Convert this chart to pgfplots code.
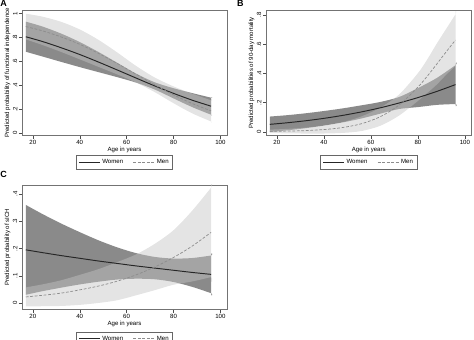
\documentclass[border=0pt]{standalone}
\usepackage{fontspec}
\setmainfont{Liberation Sans}
\usepackage{pgfplots}
\pgfplotsset{compat=1.18}
\definecolor{wband}{gray}{0.54}
\definecolor{mband}{gray}{0.77}
\definecolor{wline}{gray}{0.15}
\definecolor{mline}{gray}{0.55}

\pgfplotsset{
  panel/.style={
    scale only axis,
    width=205bp, height=125.7bp,
    xmin=15.4, xmax=102.8,
    xtick={20,40,60,80,100},
    tick align=outside, major tick length=3bp,
    xtick pos=bottom, ytick pos=left,
    axis line style={black!55, line width=0.5pt},
    major tick style={black!70, line width=0.4pt},
    font=\fontsize{6.1}{7}\selectfont,
    /pgf/number format/assume math mode=true,
    yticklabel style={rotate=90, anchor=south, inner sep=1.5bp},
    xticklabel style={inner sep=1.5bp},
    xlabel={Age in years},
    xlabel style={at={(axis description cs:0.5,-0.115)}, anchor=center},
    ylabel style={at={(axis description cs:-0.07,0.5)}, anchor=center},
    legend columns=2,
    legend cell align=left,
    legend style={draw=black!60, line width=0.4pt, fill=white,
      font=\fontsize{6.1}{7}\selectfont, anchor=north, at={(0.5,-0.155)},
      inner xsep=2bp, inner ysep=2.2bp,
      /tikz/every even column/.append style={column sep=8bp}},
    legend image code/.code={\draw[##1] (0bp,0bp) -- (21bp,0bp);},
  },
  wbandsty/.style={fill=wband, draw=none, forget plot, smooth, tension=0.5},
  mbandsty/.style={fill=mband, fill opacity=0.46, draw=none, forget plot, smooth, tension=0.5},
  wlinesty/.style={wline, line width=0.95pt, smooth},
  mlinesty/.style={mline, line width=0.7pt, smooth, dash pattern=on 2.8bp off 1.7bp},
}

\begin{document}
\begin{tikzpicture}
\useasboundingbox (0,0) rectangle (474bp,340bp);

% ---------- A ----------
\begin{axis}[panel, at={(22bp,204.3bp)}, anchor=south west,
  ymin=-0.02, ymax=1.028,
  ytick={0,0.2,0.4,0.6,0.8,1}, yticklabels={0,.2,.4,.6,.8,1},
  ylabel={Predicted probability of functional independence}]
  \addplot[wbandsty] coordinates {(17,.931)(24,.891)(32,.832)(40,.761)(48,.678)(56,.588)(64,.498)(72,.425)(80,.376)(88,.335)(96,.297)(96,.297)
    (96,.155)(96,.155)(88,.218)(80,.291)(72,.365)(64,.423)(56,.468)(48,.510)(40,.552)(32,.596)(24,.641)(17,.680)};
  \addplot[mbandsty] coordinates {(17,.997)(24,.973)(32,.930)(40,.866)(48,.779)(56,.674)(64,.562)(72,.465)(80,.391)(88,.330)(96,.275)(96,.275)
    (96,.099)(96,.099)(88,.166)(80,.251)(72,.343)(64,.424)(56,.491)(48,.554)(40,.617)(32,.679)(24,.737)(17,.783)};
  \addplot[wlinesty] coordinates {(17,.805)(24,.766)(32,.714)(40,.657)(48,.594)(56,.528)(64,.461)(72,.395)(80,.333)(88,.276)(96,.226)};
  \addlegendentry{Women}
  \addplot[mlinesty] coordinates {(17,.890)(24,.855)(32,.804)(40,.742)(48,.667)(56,.582)(64,.493)(72,.404)(80,.321)(88,.248)(96,.187)};
  \addlegendentry{Men}
\end{axis}

% ---------- B ----------
\begin{axis}[panel, at={(266bp,204.3bp)}, anchor=south west,
  width=205.5bp,
  ymin=-0.027, ymax=0.834,
  ytick={0,0.2,0.4,0.6,0.8}, yticklabels={0,.2,.4,.6,.8},
  ylabel={Predicted probabilities of 90-day mortality}]
  \addplot[wbandsty] coordinates {(17,.104)(24,.113)(32,.126)(40,.142)(48,.160)(56,.181)(64,.204)(72,.238)(80,.299)(88,.368)(96,.456)(96,.456)
    (96,.190)(96,.190)(88,.184)(80,.169)(72,.156)(64,.124)(56,.091)(48,.064)(40,.042)(32,.024)(24,.009)(17,-.002)};
  \addplot[mbandsty] coordinates {(17,.0144)(24,.0194)(32,.0278)(40,.042)(48,.066)(56,.105)(64,.165)(72,.255)(80,.401)(84,.496)(88,.603)(92,.704)(96,.804)(96,.804)
    (96,.452)(96,.452)(92,.390)(88,.323)(84,.266)(80,.211)(72,.111)(64,.041)(56,.005)(48,-.008)(40,-.012)(32,-.0122)(24,-.0106)(17,-.0096)};
  \addplot[wlinesty] coordinates {(17,.0507)(24,.0609)(32,.0748)(40,.0917)(48,.112)(56,.136)(64,.164)(72,.197)(80,.234)(88,.276)(96,.323)};
  \addlegendentry{Women}
  \addplot[mlinesty] coordinates {(17,.0024)(24,.0044)(32,.0078)(40,.015)(48,.029)(56,.055)(64,.103)(72,.183)(80,.306)(84,.381)(88,.463)(92,.547)(96,.628)};
  \addlegendentry{Men}
\end{axis}

% ---------- C ----------
\begin{axis}[panel, at={(22bp,30.5bp)}, anchor=south west,
  height=124.5bp,
  ymin=-0.024, ymax=0.433,
  ytick={0,0.1,0.2,0.3,0.4}, yticklabels={0,.1,.2,.3,.4},
  legend style={at={(0.5,-0.177)}},
  ylabel={Predicted probability of sICH}]
  \addplot[wbandsty] coordinates {(17,.360)(24,.327)(32,.292)(40,.260)(48,.230)(56,.204)(64,.183)(72,.169)(80,.163)(88,.165)(96,.174)(96,.174)
    (96,.036)(96,.036)(88,.059)(80,.077)(72,.087)(64,.089)(56,.086)(48,.078)(40,.068)(32,.056)(24,.043)(17,.030)};
  \addplot[mbandsty] coordinates {(17,.057)(24,.068)(32,.083)(40,.103)(48,.124)(56,.150)(64,.178)(72,.217)(80,.267)(88,.339)(96,.423)(96,.423)
    (96,.095)(96,.095)(88,.079)(80,.067)(72,.047)(64,.028)(56,.010)(48,0)(40,-.007)(32,-.011)(24,-.012)(17,-.013)};
  \addplot[wlinesty] coordinates {(17,.195)(24,.185)(32,.174)(40,.164)(48,.154)(56,.145)(64,.136)(72,.128)(80,.120)(88,.112)(96,.105)};
  \addlegendentry{Women}
  \addplot[mlinesty] coordinates {(17,.022)(24,.028)(32,.036)(40,.048)(48,.062)(56,.080)(64,.103)(72,.132)(80,.167)(88,.209)(96,.259)};
  \addlegendentry{Men}
\end{axis}

\node[anchor=north west, inner sep=0pt, font=\bfseries\fontsize{9}{9}\selectfont] at (0.3bp,339.5bp) {A};
\node[anchor=north west, inner sep=0pt, font=\bfseries\fontsize{9}{9}\selectfont] at (236.8bp,339.5bp) {B};
\node[anchor=north west, inner sep=0pt, font=\bfseries\fontsize{9}{9}\selectfont] at (0.3bp,169bp) {C};
\end{tikzpicture}
\end{document}
